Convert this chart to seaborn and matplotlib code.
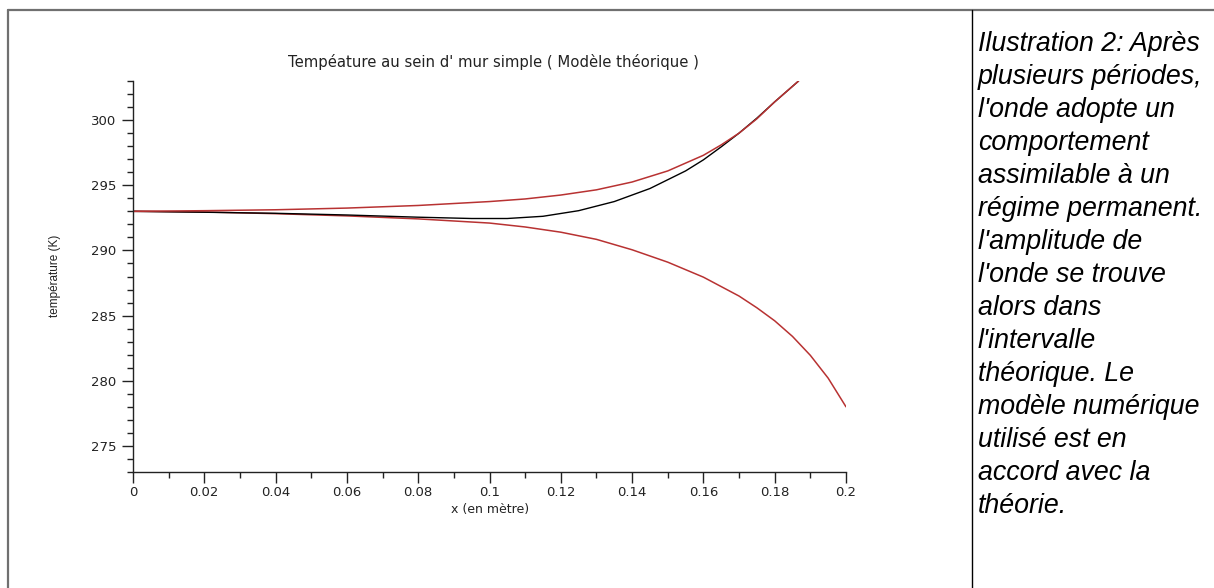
import matplotlib
matplotlib.use("Agg")
import matplotlib.pyplot as plt
from matplotlib.lines import Line2D
from matplotlib.ticker import MultipleLocator
import seaborn as sns
import pandas as pd

# Theoretical envelope, upper bound (x in m, T in K)
x_upper = [0.000, 0.020, 0.040, 0.060, 0.080, 0.100, 0.110, 0.120, 0.130,
           0.140, 0.150, 0.160, 0.165, 0.170, 0.175, 0.180, 0.1867]
t_upper = [293.00, 293.05, 293.12, 293.25, 293.45, 293.75, 293.95, 294.25, 294.65,
           295.25, 296.10, 297.30, 298.10, 299.00, 300.10, 301.40, 303.00]

# Theoretical envelope, lower bound
x_lower = [0.000, 0.020, 0.040, 0.060, 0.080, 0.100, 0.110, 0.120, 0.130,
           0.140, 0.150, 0.160, 0.170, 0.175, 0.180, 0.185, 0.190, 0.195, 0.200]
t_lower = [293.00, 292.95, 292.82, 292.65, 292.42, 292.10, 291.80, 291.40, 290.85,
           290.05, 289.10, 287.95, 286.50, 285.60, 284.60, 283.40, 281.95, 280.20, 278.00]

# Numerical model
x_model = [0.000, 0.020, 0.040, 0.060, 0.080, 0.095, 0.105, 0.115, 0.125,
           0.135, 0.145, 0.155, 0.160, 0.165, 0.170, 0.175, 0.180, 0.1867]
t_model = [293.00, 292.93, 292.85, 292.72, 292.55, 292.45, 292.45, 292.62, 293.05,
           293.75, 294.75, 296.10, 296.95, 297.95, 299.00, 300.15, 301.40, 303.00]

title = "Tempéature au sein d' mur simple ( Modèle théorique )"
caption = ("Ilustration 2: Après\nplusieurs périodes,\nl'onde adopte un\ncomportement\n"
           "assimilable à un\nrégime permanent.\nl'amplitude de\nl'onde se trouve\n"
           "alors dans\nl'intervalle\nthéorique. Le\nmodèle numérique\n"
           "utilisé est en\naccord avec la\nthéorie.")

sns.set_theme(style="ticks")
plt.rcParams['font.family'] = ['DejaVu Sans']

red = "#b83232"
ink = "#222222"

fig = plt.figure(figsize=(12.14, 5.88), dpi=100)
fig.patch.set_facecolor("white")
ax = fig.add_axes([133 / 1214, 1 - 472 / 588, 713 / 1214, 391 / 588])

df_up = pd.DataFrame({"x": x_upper, "T": t_upper})
df_low = pd.DataFrame({"x": x_lower, "T": t_lower})
df_mod = pd.DataFrame({"x": x_model, "T": t_model})

sns.lineplot(data=df_low, x="x", y="T", ax=ax, color=red, linewidth=1.1,
             estimator=None, sort=False)
sns.lineplot(data=df_mod, x="x", y="T", ax=ax, color="black", linewidth=1.0,
             estimator=None, sort=False)
sns.lineplot(data=df_up, x="x", y="T", ax=ax, color=red, linewidth=1.1,
             estimator=None, sort=False)

ax.set_xlim(0, 0.2)
ax.set_ylim(273, 303)
ax.set_xticks([i * 0.02 for i in range(11)])
ax.set_xticklabels(["0", "0.02", "0.04", "0.06", "0.08", "0.1", "0.12",
                    "0.14", "0.16", "0.18", "0.2"])
ax.xaxis.set_minor_locator(MultipleLocator(0.01))
ax.yaxis.set_major_locator(MultipleLocator(5))
ax.yaxis.set_minor_locator(MultipleLocator(1))
ax.tick_params(which="major", length=8, width=1, labelsize=9.5, colors=ink)
ax.tick_params(which="minor", length=4, width=1, colors=ink)
ax.tick_params(axis="x", pad=2)
ax.tick_params(axis="y", pad=4)
sns.despine(ax=ax)
for s in ["left", "bottom"]:
    ax.spines[s].set_color(ink)
    ax.spines[s].set_linewidth(1)

ax.set_xlabel("")
ax.set_ylabel("")
fig.text(490 / 1214, 1 - 510 / 588, "x (en mètre)", ha="center", va="center",
         fontsize=9, color=ink)
fig.text(55 / 1214, 1 - 276 / 588, "température (K)", ha="center", va="center",
         rotation=90, fontsize=8.5, color=ink, family="Liberation Sans",
         fontstretch="condensed")
fig.text(493 / 1214, 1 - 62 / 588, title, ha="center", va="center",
         fontsize=10.7, color=ink)

# caption on the right
fig.text(978 / 1214, 1 - 31 / 588, caption, ha="left", va="top", fontsize=19.3,
         style="italic", family="Liberation Sans", linespacing=1.35, color="black")

# frame lines
fig.add_artist(Line2D([7.5 / 1214, 1], [1 - 9.5 / 588, 1 - 9.5 / 588],
                      transform=fig.transFigure, color="#707070", linewidth=1.6))
fig.add_artist(Line2D([7.5 / 1214, 7.5 / 1214], [0, 1 - 9.5 / 588],
                      transform=fig.transFigure, color="#707070", linewidth=1.6))
fig.add_artist(Line2D([971.5 / 1214, 971.5 / 1214], [0, 1 - 10 / 588],
                      transform=fig.transFigure, color="black", linewidth=1.0))

fig.savefig("out.png", dpi=100)
